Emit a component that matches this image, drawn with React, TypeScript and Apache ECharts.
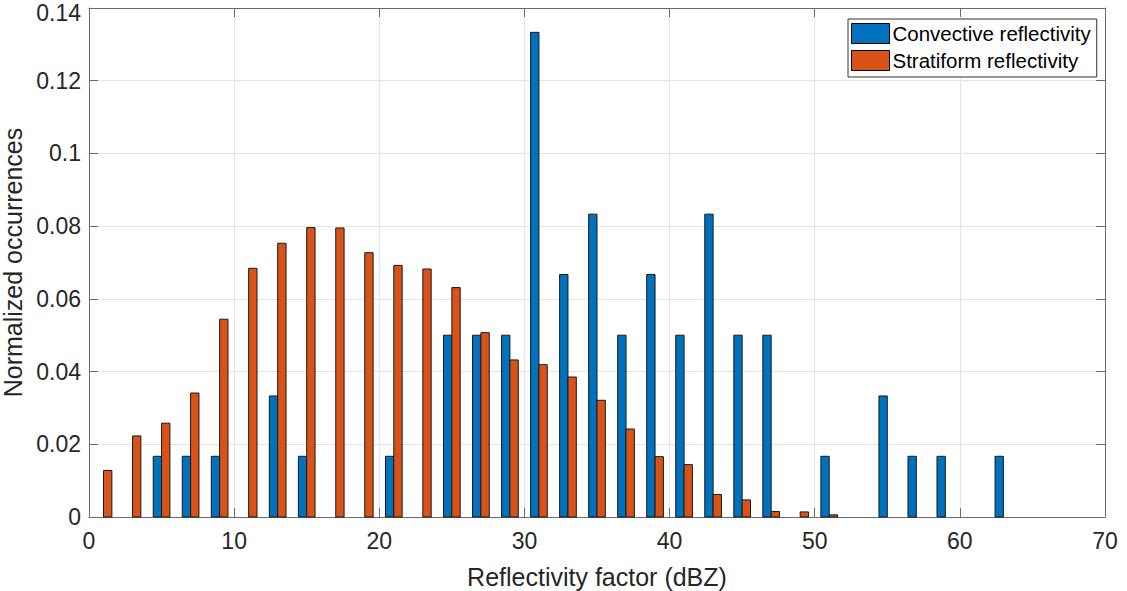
import React, { useEffect, useRef } from "react";
import * as echarts from "echarts";

// Histogram bin centres (dBZ)
const binCenters = [
  1, 3, 5, 7, 9, 11, 13, 15, 17, 19, 21, 23, 25, 27, 29, 31,
  33, 35, 37, 39, 41, 43, 45, 47, 49, 51, 53, 55, 57, 59, 61, 63,
];

// Normalized occurrences per bin
const convective = [
  0, 0, 0.0167, 0.0167, 0.0167, 0, 0.0333, 0.0167, 0, 0, 0.0167, 0, 0.05, 0.05, 0.05, 0.1333,
  0.0667, 0.0833, 0.05, 0.0667, 0.05, 0.0833, 0.05, 0.05, 0, 0.0167, 0, 0.0333, 0.0167, 0.0167, 0, 0.0167,
];
const stratiform = [
  0.0128, 0.0223, 0.0258, 0.0341, 0.0544, 0.0684, 0.0753, 0.0796, 0.0795, 0.0727, 0.0692, 0.0682, 0.0631, 0.0507, 0.0432, 0.0419,
  0.0385, 0.0321, 0.0242, 0.0166, 0.0144, 0.0062, 0.0047, 0.0015, 0.0014, 0.0006, 0, 0, 0, 0, 0, 0,
];

const seriesNames = ["Convective reflectivity", "Stratiform reflectivity"];
const seriesColors = ["#0072BD", "#D95319"];

const xTicks = { min: 0, max: 70, interval: 10 };
const yTicks = { min: 0, max: 0.14, interval: 0.02 };

const BAR_WIDTH = 0.575; // in dBZ units, each bar of a pair
const FONT = "'Liberation Sans', Arial, Helvetica, sans-serif";
const AXIS_COLOR = "#6b6b6b";
const TEXT_COLOR = "#262626";

function barSeries(name: string, values: number[], color: string, offset: number) {
  return {
    type: "custom",
    name,
    xAxisIndex: 0,
    yAxisIndex: 0,
    data: binCenters.map((b, i) => [b, values[i]]).filter((d) => d[1] > 0),
    encode: { x: 0, y: 1 },
    itemStyle: { color, borderColor: "#000", borderWidth: 1 },
    renderItem: (_params: any, api: any) => {
      const x = api.value(0);
      const y = api.value(1);
      const tl = api.coord([x + offset - BAR_WIDTH / 2, y]);
      const br = api.coord([x + offset + BAR_WIDTH / 2, 0]);
      return {
        type: "rect",
        shape: { x: tl[0], y: tl[1], width: br[0] - tl[0], height: br[1] - tl[1] },
        style: { fill: color, stroke: "#1a1a1a", lineWidth: 1 },
      };
    },
  };
}

function axisBase(extra: any) {
  return {
    type: "value",
    axisLine: { show: true, onZero: false, lineStyle: { color: AXIS_COLOR, width: 1 } },
    axisTick: { show: true, inside: true, length: 9, lineStyle: { color: AXIS_COLOR } },
    ...extra,
  };
}

export default function App() {
  const ref = useRef<HTMLDivElement>(null);

  useEffect(() => {
    if (!ref.current) return;
    const chart = echarts.init(ref.current, undefined, { renderer: "svg" });
    chart.setOption({
      animation: false,
      backgroundColor: "#ffffff",
      grid: {
        left: 89,
        right: 22,
        top: 8,
        bottom: 74,
        containLabel: false,
        outerBoundsMode: "none",
      },
      legend: {
        orient: "vertical",
        left: 848,
        top: 19,
        icon: "rect",
        itemWidth: 38,
        itemHeight: 20,
        itemGap: 6,
        padding: [4, 6, 6, 3],
        backgroundColor: "#ffffff",
        borderColor: "#333333",
        borderWidth: 1,
        borderRadius: 0,
        data: seriesNames,
        itemStyle: { borderColor: "#000", borderWidth: 1 },
        textStyle: { fontSize: 20.5, color: "#000", fontFamily: FONT, padding: [0, 0, 0, -2] },
      },
      xAxis: [
        axisBase({
          ...xTicks,
          position: "bottom",
          name: "Reflectivity factor (dBZ)",
          nameLocation: "middle",
          nameGap: 47,
          nameTextStyle: { fontSize: 25, color: TEXT_COLOR, fontFamily: FONT },
          axisLabel: { fontSize: 23, color: TEXT_COLOR, fontFamily: FONT, margin: 12 },
          splitLine: { show: true, lineStyle: { color: "#e4e4e4", width: 1 } },
        }),
        axisBase({
          ...xTicks,
          position: "top",
          axisLabel: { show: false },
          splitLine: { show: false },
        }),
      ],
      yAxis: [
        axisBase({
          ...yTicks,
          position: "left",
          name: "Normalized occurrences",
          nameLocation: "middle",
          nameGap: 59,
          nameTextStyle: { fontSize: 25, color: TEXT_COLOR, fontFamily: FONT },
          axisLabel: {
            fontSize: 23,
            color: TEXT_COLOR,
            fontFamily: FONT,
            margin: 8,
            // the topmost label sits at the canvas edge; nudge it down to keep it visible
            formatter: (v: number) => (v >= yTicks.max ? `{edge|${v}}` : `${v}`),
            rich: {
              edge: {
                fontSize: 23,
                color: TEXT_COLOR,
                fontFamily: FONT,
                padding: [9, 0, 0, 0],
              },
            },
          },
          splitLine: { show: true, lineStyle: { color: "#e4e4e4", width: 1 } },
        }),
        axisBase({
          ...yTicks,
          position: "right",
          axisLabel: { show: false },
          splitLine: { show: false },
        }),
      ],
      series: [
        barSeries(seriesNames[0], convective, seriesColors[0], -BAR_WIDTH / 2),
        barSeries(seriesNames[1], stratiform, seriesColors[1], BAR_WIDTH / 2),
      ],
    });
    return () => chart.dispose();
  }, []);

  return (
    <div
      ref={ref}
      style={{ position: "fixed", left: 0, top: 0, width: 1127, height: 591, background: "#fff" }}
    />
  );
}
